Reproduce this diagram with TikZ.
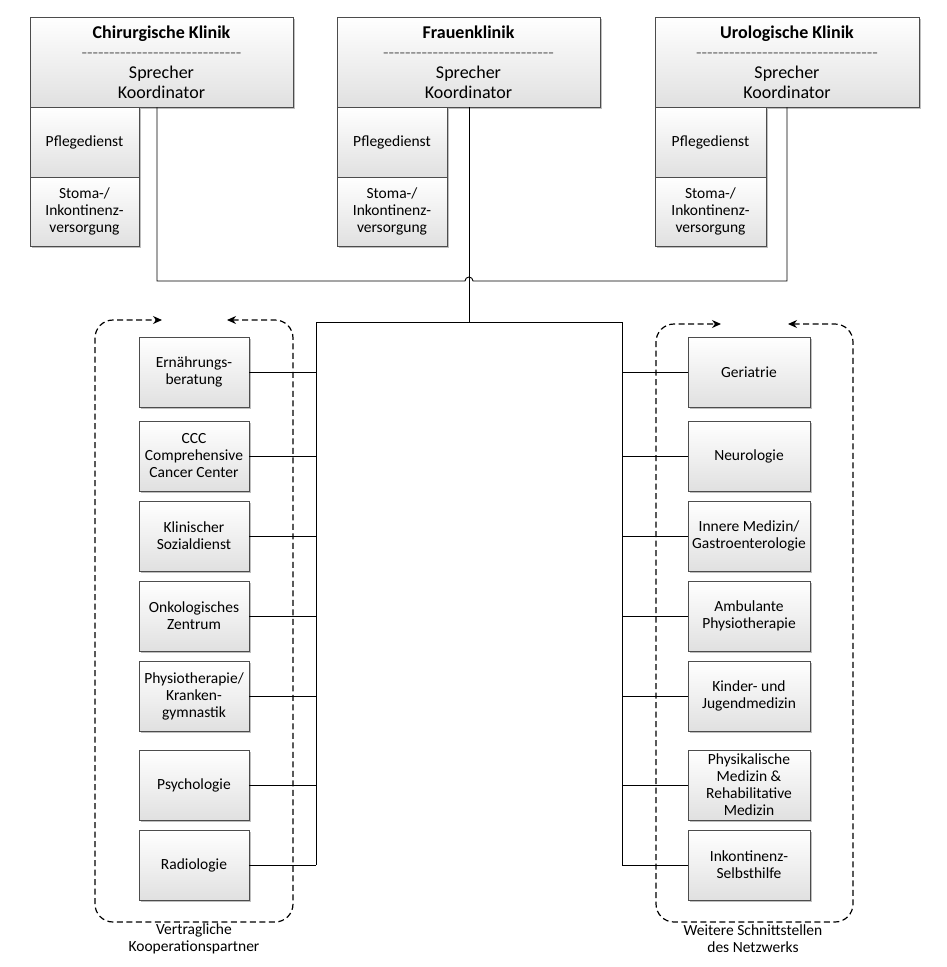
\documentclass[tikz,border=0pt]{standalone}
\usepackage{fontspec}
\setmainfont{Carlito}
\usetikzlibrary{arrows.meta,shadows}
\newcommand\hyline[1]{\foreach\i in {1,...,#1}{-\kern0pt}}
\begin{document}
\begin{tikzpicture}[x=1pt,y=-1pt,
  box/.style={draw=black!70, line width=0.8pt, top color=white, bottom color=black!12,
    drop shadow={shadow xshift=1.5pt,shadow yshift=-1.5pt,opacity=0.25,fill=black},
    inner sep=0pt, align=center, font=\fontsize{15.5}{17}\selectfont},
  headbox/.style={box, font=\fontsize{18}{20}\selectfont, minimum width=263pt, minimum height=90pt},
  sidebox/.style={box, minimum width=110pt, minimum height=70pt},
  leftbox/.style={box, minimum width=110pt, minimum height=70pt},
  rightbox/.style={box, minimum width=122pt, minimum height=70pt},
  conn/.style={draw=black, line width=0.9pt},
  grp/.style={draw=black, line width=1.2pt, dash pattern=on 6pt off 3.5pt, rounded corners=18pt,
    {Stealth[length=9pt,width=8pt]}-{Stealth[length=9pt,width=8pt]}},
  lbl/.style={align=center, font=\fontsize{15.5}{17}\selectfont}]
\useasboundingbox (0,0) rectangle (946,967);

% head boxes
\node[headbox] (chir) at (161.5,62) {\textbf{Chirurgische Klinik}\\{\color{black!55}\hyline{29}}\\Sprecher\\Koordinator};
\node[headbox] (frau) at (468.5,62) {\textbf{Frauenklinik}\\{\color{black!55}\hyline{31}}\\Sprecher\\Koordinator};
\node[headbox, minimum width=264pt] (uro) at (787,62) {\textbf{Urologische Klinik}\\{\color{black!55}\hyline{33}}\\Sprecher\\Koordinator};

% side boxes
\node[sidebox, minimum width=109pt] (chirP) at (84.5,142) {Pflegedienst};
\node[sidebox, minimum width=109pt, minimum height=69pt] (chirS) at (84.5,211.5) {Stoma-/\\Inkontinenz-\\versorgung};
\node[sidebox] (frauP) at (392,142) {Pflegedienst};
\node[sidebox, minimum height=69pt] (frauS) at (392,211.5) {Stoma-/\\Inkontinenz-\\versorgung};
\node[sidebox, minimum width=111pt] (uroP) at (710.5,142) {Pflegedienst};
\node[sidebox, minimum width=111pt, minimum height=69pt] (uroS) at (710.5,211.5) {Stoma-/\\Inkontinenz-\\versorgung};

% junction coordinates
\coordinate (jc) at (157,281);
\coordinate (ju) at (787,281);
\coordinate (jf) at (469,281);
\coordinate (jt) at (469,322);
\coordinate (tl) at (316,322);
\coordinate (tr) at (622,322);

% left boxes
\node[leftbox] (l1) at (194,372) {Ernährungs-\\beratung};
\node[leftbox] (l2) at (194,456) {CCC\\Comprehensive\\Cancer Center};
\node[leftbox] (l3) at (194,536) {Klinischer\\Sozialdienst};
\node[leftbox] (l4) at (194,616) {Onkologisches\\Zentrum};
\node[leftbox] (l5) at (194,696) {Physiotherapie/\\Kranken-\\gymnastik};
\node[leftbox] (l6) at (194,785) {Psychologie};
\node[leftbox] (l7) at (194,865) {Radiologie};

% right boxes
\node[rightbox] (r1) at (749,372) {Geriatrie};
\node[rightbox] (r2) at (749,456) {Neurologie};
\node[rightbox] (r3) at (749,536) {Innere Medizin/\\Gastroenterologie};
\node[rightbox] (r4) at (749,616) {Ambulante\\Physiotherapie};
\node[rightbox] (r5) at (749,696) {Kinder- und\\Jugendmedizin};
\node[rightbox] (r6) at (749,785) {Physikalische\\Medizin \&\\Rehabilitative\\Medizin};
\node[rightbox] (r7) at (749,865) {Inkontinenz-\\Selbsthilfe};

% top connectors
\draw[conn] (chir.south -| jc) -- (jc) -- ([xshift=-4pt]jf) arc[start angle=180,end angle=0,radius=4pt] -- (ju) -- (uro.south -| ju);
\draw[conn] (frau.south -| jf) -- (jt);
\draw[conn] (tl) -- (tr);
\draw[conn] (tl) -- (l7.east -| tl);
\draw[conn] (tr) -- (r7.west -| tr);
\foreach \n in {l1,l2,l3,l4,l5,l6,l7} \draw[conn] (\n.east) -- (\n.east -| tl);
\foreach \n in {r1,r2,r3,r4,r5,r6,r7} \draw[conn] (\n.west) -- (\n.west -| tr);

% dashed groups
\coordinate (gL1) at (227,320);
\coordinate (gL2) at (162,320);
\coordinate (gR1) at (788,324);
\coordinate (gR2) at (721,324);
\draw[grp] (gL1) -- (293,320) -- (293,922) -- (95,922) -- (95,320) -- (gL2);
\draw[grp] (gR1) -- (853,324) -- (853,922) -- (656,922) -- (656,324) -- (gR2);

\node[lbl] (labL) at (194,939) {Vertragliche\\Kooperationspartner};
\node[lbl] (labR) at (753,939) {Weitere Schnittstellen\\des Netzwerks};
\end{tikzpicture}
\end{document}
